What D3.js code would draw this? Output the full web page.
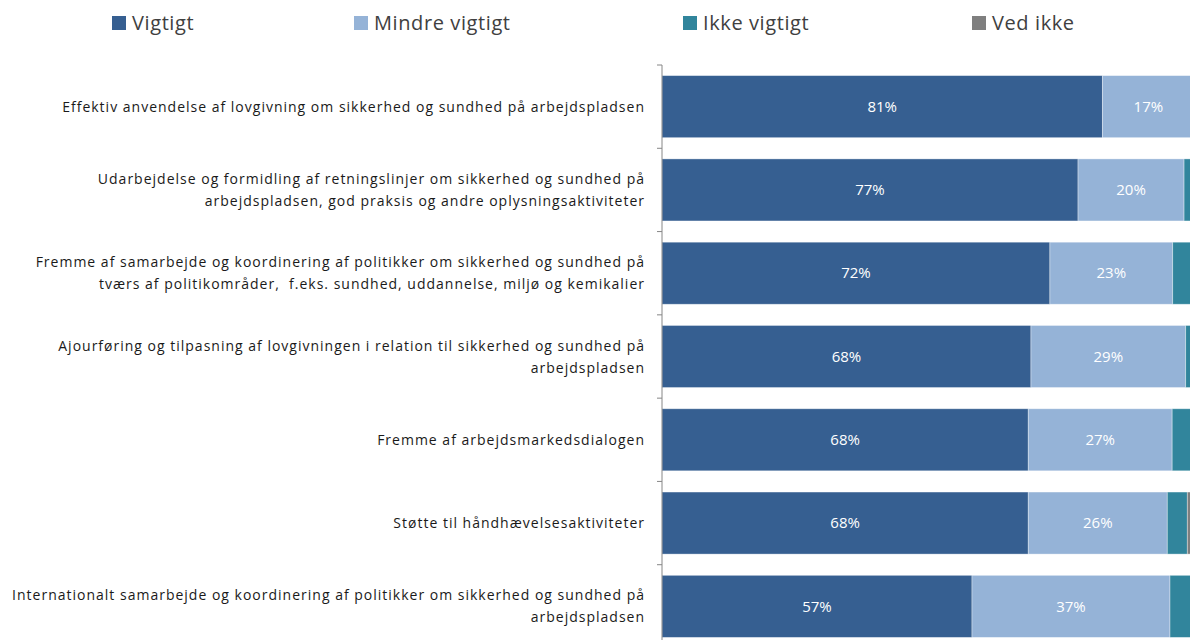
<!DOCTYPE html>
<html>
<head>
<meta charset="utf-8">
<script src="https://cdn.jsdelivr.net/npm/d3@7"></script>
<style>
  body { margin: 0; background: #fff; }
  svg { display: block; font-family: "Open Sans", sans-serif; }
  text { white-space: pre; }
</style>
</head>
<body>
<div id="chart"></div>
<script>
const categories = [
  "Effektiv anvendelse af lovgivning om sikkerhed og sundhed på arbejdspladsen",
  "Udarbejdelse og formidling af retningslinjer om sikkerhed og sundhed på\narbejdspladsen, god praksis og andre oplysningsaktiviteter",
  "Fremme af samarbejde og koordinering af politikker om sikkerhed og sundhed på\ntværs af politikområder,  f.eks. sundhed, uddannelse, miljø og kemikalier",
  "Ajourføring og tilpasning af lovgivningen i relation til sikkerhed og sundhed på\narbejdspladsen",
  "Fremme af arbejdsmarkedsdialogen",
  "Støtte til håndhævelsesaktiviteter",
  "Internationalt samarbejde og koordinering af politikker om sikkerhed og sundhed på\narbejdspladsen"
];
const seriesNames = ["Vigtigt", "Mindre vigtigt", "Ikke vigtigt", "Ved ikke"];
const vigtigt       = [81.4, 76.9, 71.7, 68.2, 67.7, 67.7, 57.3];
const mindreVigtigt = [17.0, 19.6, 22.7, 28.6, 26.6, 25.7, 36.6];
const ikkeVigtigt   = [1.1, 2.5, 4.4, 2.5, 5.0, 3.7, 5.0];
const vedIkke       = [0.5, 1.0, 1.2, 0.7, 0.7, 2.9, 1.1];
const colors = ["#365f91", "#95b3d7", "#31859c", "#7f7f7f"];

const width = 1190, height = 640;

const rows = categories.map((c, i) => ({
  cat: c,
  "Vigtigt": vigtigt[i],
  "Mindre vigtigt": mindreVigtigt[i],
  "Ikke vigtigt": ikkeVigtigt[i],
  "Ved ikke": vedIkke[i]
}));

const stack = d3.stack().keys(seriesNames)(rows);

const x = d3.scaleLinear().domain([0, 100]).range([662, 1203]);
const y = d3.scaleBand().domain(categories).range([65, 648])
  .paddingInner(0.255).paddingOuter(0.1275);

const svg = d3.select("#chart").append("svg")
  .attr("width", width).attr("height", height);

// bars
svg.append("g").selectAll("g")
  .data(stack)
  .join("g")
    .attr("fill", (d, i) => colors[i])
  .selectAll("rect")
  .data(d => d)
  .join("rect")
    .attr("x", d => x(d[0]))
    .attr("y", d => y(d.data.cat))
    .attr("width", d => x(d[1]) - x(d[0]))
    .attr("height", y.bandwidth())
    .attr("stroke", "#ffffff")
    .attr("stroke-opacity", 0.45)
    .attr("stroke-width", 0.8);

// value labels for the first two series
svg.append("g").selectAll("g")
  .data(stack.slice(0, 2))
  .join("g")
  .selectAll("text")
  .data(d => d)
  .join("text")
    .attr("x", d => (x(d[0]) + x(d[1])) / 2)
    .attr("y", d => y(d.data.cat) + y.bandwidth() / 2)
    .attr("dy", "0.35em")
    .attr("text-anchor", "middle")
    .attr("fill", "#ffffff")
    .attr("font-size", 15)
    .text(d => Math.round(d[1] - d[0]) + "%");

// y axis
const yAxis = svg.append("g")
  .attr("transform", "translate(662,0)");
yAxis.append("line")
  .attr("x1", 0).attr("x2", 0)
  .attr("y1", 65).attr("y2", 648)
  .attr("stroke", "#868686");
yAxis.selectAll("line.tick")
  .data(d3.range(categories.length + 1))
  .join("line")
    .attr("class", "tick")
    .attr("x1", -5).attr("x2", 0)
    .attr("y1", i => 65 + i * y.step())
    .attr("y2", i => 65 + i * y.step())
    .attr("stroke", "#868686");

const labels = svg.append("g").selectAll("text")
  .data(categories)
  .join("text")
    .attr("x", 645)
    .attr("y", d => y(d) + y.bandwidth() / 2)
    .attr("text-anchor", "end")
    .attr("fill", "#1a1a1a")
    .attr("font-size", 14)
    .attr("letter-spacing", "1px");
labels.each(function(d) {
  const lines = d.split("\n");
  const lh = 22;
  const off = -(lines.length - 1) * lh / 2;
  d3.select(this).selectAll("tspan")
    .data(lines)
    .join("tspan")
      .attr("x", 645)
      .attr("y", y(d) + y.bandwidth() / 2 + off)
      .attr("dy", (l, i) => (i * lh + 5) + "px")
      .text(l => l);
});

// legend
const legendX = [112, 354, 683, 972];
const legend = svg.append("g").selectAll("g")
  .data(seriesNames)
  .join("g")
    .attr("transform", (d, i) => `translate(${legendX[i]},16)`);
legend.append("rect")
  .attr("width", 14).attr("height", 14)
  .attr("fill", (d, i) => colors[i]);
legend.append("text")
  .attr("x", 20).attr("y", 7)
  .attr("dy", "0.35em")
  .attr("font-size", 20)
  .attr("letter-spacing", "0.6px")
  .attr("fill", "#404040")
  .text(d => d);
</script>
</body>
</html>
